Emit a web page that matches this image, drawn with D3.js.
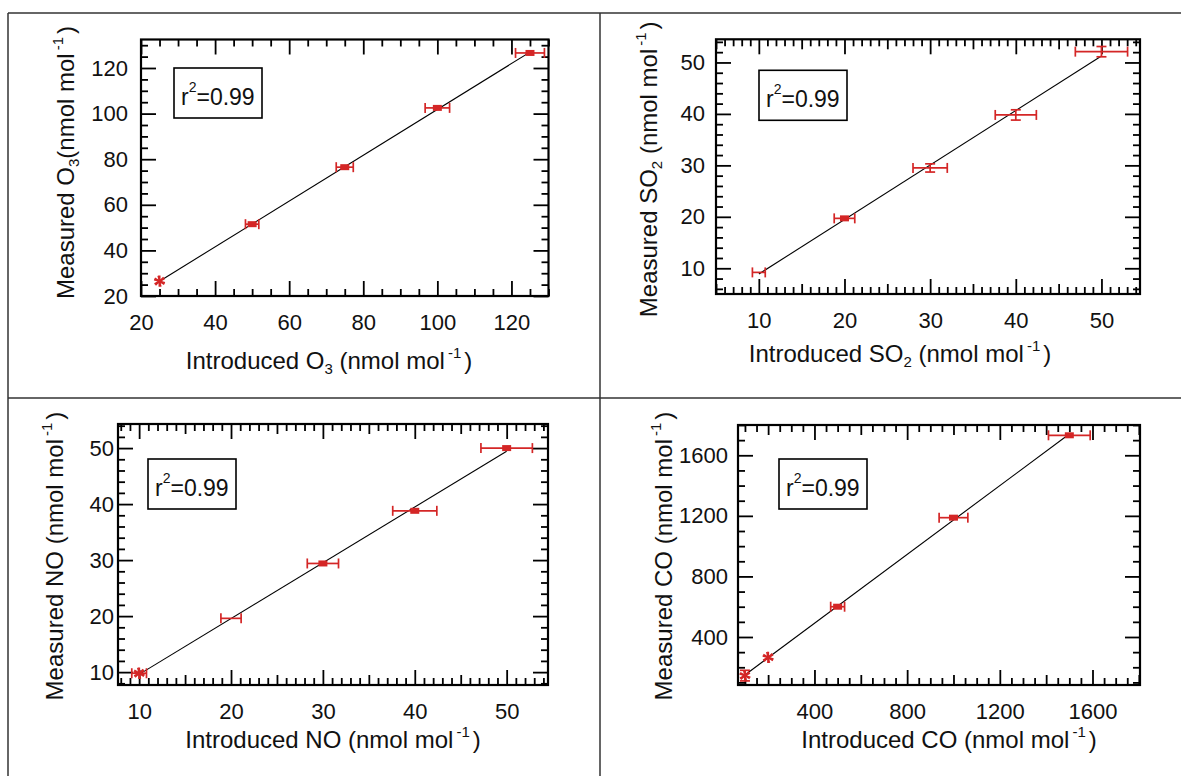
<!DOCTYPE html>
<html>
<head>
<meta charset="utf-8">
<script src="https://cdn.jsdelivr.net/npm/d3@7"></script>
<style>
  body { margin: 0; background: #fff; }
  text { font-family: "Liberation Sans", Arial, sans-serif; fill: #111; }
</style>
</head>
<body>
<div id="chart"></div>
<script>
// values
var o3Introduced = [25, 50, 75, 100, 125];
var o3Measured   = [26.5, 51.5, 76.5, 102.5, 126.6];
var o3XErr       = [0, 1.8, 2.3, 3.3, 3.9];
var o3YErr       = [0, 0, 0, 0, 0];
var o3XTicks     = [20, 40, 60, 80, 100, 120];
var o3YTicks     = [20, 40, 60, 80, 100, 120];

var so2Introduced = [10, 20, 30, 40, 50];
var so2Measured   = [9.2, 19.7, 29.5, 39.8, 52.1];
var so2XErr       = [0.75, 1.2, 2, 2.4, 3.05];
var so2YErr       = [0, 0, 0.8, 1, 1];
var so2XTicks     = [10, 20, 30, 40, 50];
var so2YTicks     = [10, 20, 30, 40, 50];

var noIntroduced = [10, 20, 30, 40, 50];
var noMeasured   = [9.8, 19.6, 29.4, 38.8, 50];
var noXErr       = [0.8, 1.1, 1.7, 2.4, 2.8];
var noYErr       = [0, 0, 0, 0, 0];
var noXTicks     = [10, 20, 30, 40, 50];
var noYTicks     = [10, 20, 30, 40, 50];

var coIntroduced = [100, 200, 500, 1000, 1500];
var coMeasured   = [145, 265, 600, 1188, 1732];
var coXErr       = [0, 0, 30, 62, 90];
var coYErr       = [35, 0, 0, 0, 0];
var coXTicks     = [400, 800, 1200, 1600];
var coYTicks     = [400, 800, 1200, 1600];

var rSquared = "=0.99";

var red = "#d42626";
var W = 1181, H = 776;

var svg = d3.select("#chart").append("svg")
  .attr("width", W).attr("height", H);

// page frame
var frame = svg.append("g").attr("stroke", "#333").attr("stroke-width", 1.5);
frame.append("line").attr("x1", 8).attr("x2", W).attr("y1", 13).attr("y2", 13);
frame.append("line").attr("x1", 8).attr("x2", 8).attr("y1", 13).attr("y2", H);
frame.append("line").attr("x1", 600).attr("x2", 600).attr("y1", 13).attr("y2", H);
frame.append("line").attr("x1", 8).attr("x2", W).attr("y1", 398).attr("y2", 398);

var panels = [
  { gas: "O", sub: "3", yGap: "", xs: o3Introduced, ys: o3Measured, xe: o3XErr, ye: o3YErr,
    xt: o3XTicks, yt: o3YTicks, marks: ["star", "rect", "rect", "rect", "rect"],
    left: 141, right: 548.5, top: 39.5, bottom: 296, xDom: [20, 130], yDom: [20, 132.5],
    xMinor: 5, xMed: null, yMinor: 5, yMed: null, yPad: 13,
    xTitleX: 188, xTitleDy: 73, yTitleDx: 67, yTitleY: 123, box: [33, 28.5] },
  { gas: "SO", sub: "2", yGap: " ", xs: so2Introduced, ys: so2Measured, xe: so2XErr, ye: so2YErr,
    xt: so2XTicks, yt: so2YTicks, marks: ["none", "rect", "none", "none", "none"],
    left: 716, right: 1140, top: 39.3, bottom: 294, xDom: [5, 54.5], yDom: [5, 54.5],
    xMinor: 1, xMed: 5, yMinor: 2, yMed: null, yPad: 11,
    xTitleX: 184, xTitleDy: 68, yTitleDx: 59, yTitleY: 130, box: [43, 31] },
  { gas: "NO", sub: "", yGap: " ", xs: noIntroduced, ys: noMeasured, xe: noXErr, ye: noYErr,
    xt: noXTicks, yt: noYTicks, marks: ["star", "none", "rect", "rect", "rect"],
    left: 118, right: 548, top: 424, bottom: 685, xDom: [7.7, 54.5], yDom: [7.7, 54.3],
    xMinor: 1, xMed: 5, yMinor: 2, yMed: null, yPad: 4,
    xTitleX: 215, xTitleDy: 63, yTitleDx: 55, yTitleY: 132, box: [30, 35] },
  { gas: "CO", sub: "", yGap: " ", xs: coIntroduced, ys: coMeasured, xe: coXErr, ye: coYErr,
    xt: coXTicks, yt: coYTicks, marks: ["star", "star", "rect", "rect", "rect"],
    left: 738, right: 1140, top: 425, bottom: 685, xDom: [70, 1805], yDom: [83, 1800],
    xMinor: 50, xMed: 200, yMinor: 100, yMed: null, yPad: 10,
    xTitleX: 211, xTitleDy: 63, yTitleDx: 66, yTitleY: 131, box: [41, 34] }
];

var majorLen = 15, medLen = 10, minorLen = 7;

function stepTicks(dom, step, skip) {
  var out = [];
  if (!step) return out;
  var start = Math.ceil(dom[0] / step - 1e-9);
  for (var k = start; k * step <= dom[1] + 1e-9; k++) {
    var v = +(k * step).toFixed(6);
    if (skip.indexOf(v) < 0) out.push(v);
  }
  return out;
}

function tickLayer(g, axis, tr) {
  var a = g.append("g").attr("transform", tr).call(axis);
  a.select(".domain").remove();
  a.selectAll("line").attr("stroke", "#000").attr("stroke-width", 1.8);
  a.selectAll("text").attr("font-size", 22).attr("font-family", "Liberation Sans, Arial, sans-serif").attr("fill", "#111");
  return a;
}

// title with sub- and superscripts
function axisTitle(sel, word, p, gap) {
  sel.append("tspan").text(word + " " + p.gas);
  if (p.sub) {
    sel.append("tspan").attr("font-size", 15).attr("dy", 5).text(p.sub);
    sel.append("tspan").attr("dy", -5).text(gap + "(nmol mol");
  } else {
    sel.append("tspan").text(gap + "(nmol mol");
  }
  sel.append("tspan").attr("font-size", 15).attr("dy", -11).attr("dx", 3).text("-1");
  sel.append("tspan").attr("dy", 11).attr("dx", 3).text(")");
}

panels.forEach(function(p) {
  var g = svg.append("g");
  var x = d3.scaleLinear().domain(p.xDom).range([p.left, p.right]);
  var y = d3.scaleLinear().domain(p.yDom).range([p.bottom, p.top]);

  var xMed = stepTicks(p.xDom, p.xMed, p.xt);
  var xMin = stepTicks(p.xDom, p.xMinor, p.xt.concat(xMed));
  var yMed = stepTicks(p.yDom, p.yMed, p.yt);
  var yMin = stepTicks(p.yDom, p.yMinor, p.yt.concat(yMed));

  // inward ticks on all four sides
  [[xMin, minorLen], [xMed, medLen]].forEach(function(t) {
    tickLayer(g, d3.axisBottom(x).tickValues(t[0]).tickSize(-t[1]).tickFormat(""), "translate(0," + p.bottom + ")");
    tickLayer(g, d3.axisTop(x).tickValues(t[0]).tickSize(-t[1]).tickFormat(""), "translate(0," + p.top + ")");
  });
  [[yMin, minorLen], [yMed, medLen]].forEach(function(t) {
    tickLayer(g, d3.axisLeft(y).tickValues(t[0]).tickSize(-t[1]).tickFormat(""), "translate(" + p.left + ",0)");
    tickLayer(g, d3.axisRight(y).tickValues(t[0]).tickSize(-t[1]).tickFormat(""), "translate(" + p.right + ",0)");
  });
  tickLayer(g, d3.axisBottom(x).tickValues(p.xt).tickSize(-majorLen).tickPadding(18).tickFormat(d3.format("d")), "translate(0," + p.bottom + ")");
  tickLayer(g, d3.axisTop(x).tickValues(p.xt).tickSize(-majorLen).tickFormat(""), "translate(0," + p.top + ")");
  tickLayer(g, d3.axisLeft(y).tickValues(p.yt).tickSize(-majorLen).tickPadding(p.yPad).tickFormat(d3.format("d")), "translate(" + p.left + ",0)");
  tickLayer(g, d3.axisRight(y).tickValues(p.yt).tickSize(-majorLen).tickFormat(""), "translate(" + p.right + ",0)");

  g.append("rect")
    .attr("x", p.left).attr("y", p.top)
    .attr("width", p.right - p.left).attr("height", p.bottom - p.top)
    .attr("fill", "none").attr("stroke", "#000").attr("stroke-width", 2.2);

  // least-squares fit line
  var mx = d3.mean(p.xs), my = d3.mean(p.ys);
  var sxy = d3.sum(p.xs, function(v, i) { return (v - mx) * (p.ys[i] - my); });
  var sxx = d3.sum(p.xs, function(v) { return (v - mx) * (v - mx); });
  var slope = sxy / sxx, icpt = my - slope * mx;
  var ext = d3.extent(p.xs);
  g.append("path")
    .attr("d", d3.line().x(function(d) { return x(d); }).y(function(d) { return y(icpt + slope * d); })(ext))
    .attr("stroke", "#000").attr("stroke-width", 1.1).attr("fill", "none");

  var pts = p.xs.map(function(v, i) { return { x: v, y: p.ys[i], xe: p.xe[i], ye: p.ye[i], m: p.marks[i] }; });
  var eg = g.append("g").attr("stroke", red).attr("stroke-width", 1.7).attr("fill", "none");
  pts.forEach(function(d) {
    var cx = x(d.x), cy = y(d.y);
    if (d.xe > 0) {
      var x0 = x(d.x - d.xe), x1 = x(d.x + d.xe);
      eg.append("line").attr("x1", x0).attr("x2", x1).attr("y1", cy).attr("y2", cy);
      eg.append("line").attr("x1", x0).attr("x2", x0).attr("y1", cy - 5).attr("y2", cy + 5);
      eg.append("line").attr("x1", x1).attr("x2", x1).attr("y1", cy - 5).attr("y2", cy + 5);
    }
    if (d.ye > 0) {
      var y0 = y(d.y - d.ye), y1 = y(d.y + d.ye);
      eg.append("line").attr("x1", cx).attr("x2", cx).attr("y1", y0).attr("y2", y1);
      eg.append("line").attr("x1", cx - 5).attr("x2", cx + 5).attr("y1", y0).attr("y2", y0);
      eg.append("line").attr("x1", cx - 5).attr("x2", cx + 5).attr("y1", y1).attr("y2", y1);
    }
    if (d.m === "rect") {
      g.append("rect").attr("x", cx - 4.5).attr("y", cy - 3).attr("width", 9).attr("height", 6).attr("fill", red);
    } else if (d.m === "star") {
      var sym = d3.symbol(d3.symbolAsterisk || d3.symbolCross, 90)();
      g.append("path").attr("d", sym)
        .attr("transform", "translate(" + cx + "," + cy + ")")
        .attr("stroke", red).attr("stroke-width", 2).attr("fill", "none");
      g.append("path").attr("d", sym)
        .attr("transform", "translate(" + cx + "," + cy + ") rotate(45)")
        .attr("stroke", red).attr("stroke-width", 1.4).attr("fill", "none");
    }
  });

  // r^2 box
  var bx = p.left + p.box[0], by = p.top + p.box[1];
  g.append("rect").attr("x", bx).attr("y", by).attr("width", 88).attr("height", 50)
    .attr("fill", "#fff").attr("stroke", "#000").attr("stroke-width", 1.6);
  var rt = g.append("text").attr("x", bx + 7).attr("y", by + 37).attr("font-size", 23);
  rt.append("tspan").text("r");
  rt.append("tspan").attr("font-size", 14).attr("dy", -13).text("2");
  rt.append("tspan").attr("dy", 13).text(rSquared);

  // axis titles
  var xt = g.append("text").attr("x", p.left + p.xTitleX).attr("y", p.bottom + p.xTitleDy)
    .attr("text-anchor", "middle").attr("font-size", 24);
  axisTitle(xt, "Introduced", p, " ");
  var yt = g.append("text")
    .attr("transform", "translate(" + (p.left - p.yTitleDx) + "," + (p.top + p.yTitleY) + ") rotate(-90)")
    .attr("text-anchor", "middle").attr("font-size", 24);
  axisTitle(yt, "Measured", p, p.yGap);
});
</script>
</body>
</html>
